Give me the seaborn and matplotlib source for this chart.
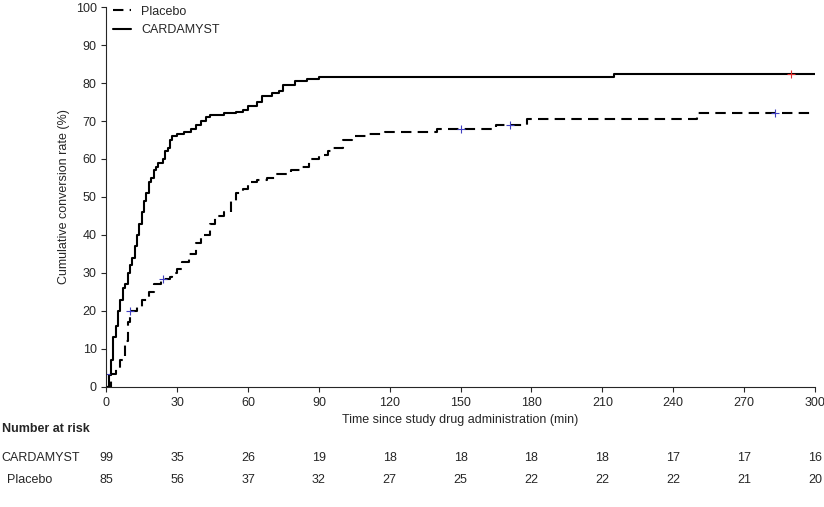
import matplotlib
matplotlib.use("Agg")
import matplotlib.pyplot as plt
import matplotlib.transforms as mtransforms
import seaborn as sns
import pandas as pd

sns.set_style("ticks")
plt.rcParams['font.family'] = ['Liberation Sans', 'DejaVu Sans']

card_t = [0,1,2,3,4,5,6,7,8,9,10,11,12,13,14,15,16,17,18,19,20,21,22,24,25,26,27,28,30,33,36,38,40,42,44,50,55,58,60,64,66,70,73,75,80,85,90,215,300]
card_y = [0,3,7,13,16,20,23,26,27,30,32,34,37,40,43,46,49,51,54,55,57,58,59,60,62,63,65,66,66.5,67,68,69,70,71,71.5,72,72.5,73,74,75,76.5,77.5,78,79.5,80.5,81,81.5,82.5,82.5]
plac_t = [0,2,4,6,8,9,10,13,15,18,20,23,27,28,30,32,35,38,40,44,46,50,53,55,58,60,64,68,72,78,82,86,90,94,96,100,104,110,118,140,165,178,250,300]
plac_y = [0,3.5,5,7,12,17,20,21,23,25,27,28.5,29,30,31,33,35,38,40,43,45,46,49,51,52,54,54.5,55,56,57,58,60,61,62,63,65,66,66.5,67,68,69,70.5,72,72]
card_cens_t = [290]; card_cens_y = [82.5]
plac_cens_t = [0, 10, 24, 150, 171, 283]; plac_cens_y = [3.5, 20, 28.5, 68, 69, 72]
risk_times = [0,30,60,90,120,150,180,210,240,270,300]
risk_card = [99,35,26,19,18,18,18,18,17,17,16]
risk_plac = [85,56,37,32,27,25,22,22,22,21,20]

fig = plt.figure(figsize=(8.24, 5.07), dpi=100)
ax = fig.add_axes([0.129, 0.237, 0.860, 0.749])

dfp = pd.DataFrame({"t": plac_t, "y": plac_y})
dfc = pd.DataFrame({"t": card_t, "y": card_y})
sns.lineplot(data=dfp, x="t", y="y", drawstyle="steps-post", color="black", lw=1.5, ax=ax, label="Placebo")
ax.lines[-1].set_linestyle((0, (5, 3)))
sns.lineplot(data=dfc, x="t", y="y", drawstyle="steps-post", color="black", lw=1.5, ax=ax, label="CARDAMYST")
ax.plot(plac_cens_t, plac_cens_y, "+", color="#4040c0", ms=6, mew=0.8)
ax.plot(card_cens_t, card_cens_y, "+", color="#e03030", ms=6, mew=0.8)

ax.set_xlim(0, 300); ax.set_ylim(0, 100)
ax.set_xticks(risk_times); ax.set_yticks(range(0, 101, 10))
ax.tick_params(labelsize=9)
ax.set_xlabel("Time since study drug administration (min)", fontsize=9)
ax.set_ylabel("Cumulative conversion rate (%)", fontsize=9)
sns.despine(ax=ax)
leg = ax.legend(loc="upper left", frameon=False, fontsize=9, handlelength=1.5, borderaxespad=0.1, bbox_to_anchor=(0.0, 1.02))
leg.get_lines()[0].set_linestyle((0, (5, 3)))

tr = mtransforms.blended_transform_factory(ax.transData, fig.transFigure)
fig.text(0.002, 0.147, "Number at risk", fontsize=9, fontweight="bold")
fig.text(0.002, 0.097, "CARDAMYST", fontsize=9, va="center")
fig.text(0.008, 0.053, "Placebo", fontsize=9, va="center")
for t, c, p in zip(risk_times, risk_card, risk_plac):
    ax.text(t, 0.097, str(c), transform=tr, ha="center", va="center", fontsize=9)
    ax.text(t, 0.053, str(p), transform=tr, ha="center", va="center", fontsize=9)

fig.savefig("out.png", dpi=100)
